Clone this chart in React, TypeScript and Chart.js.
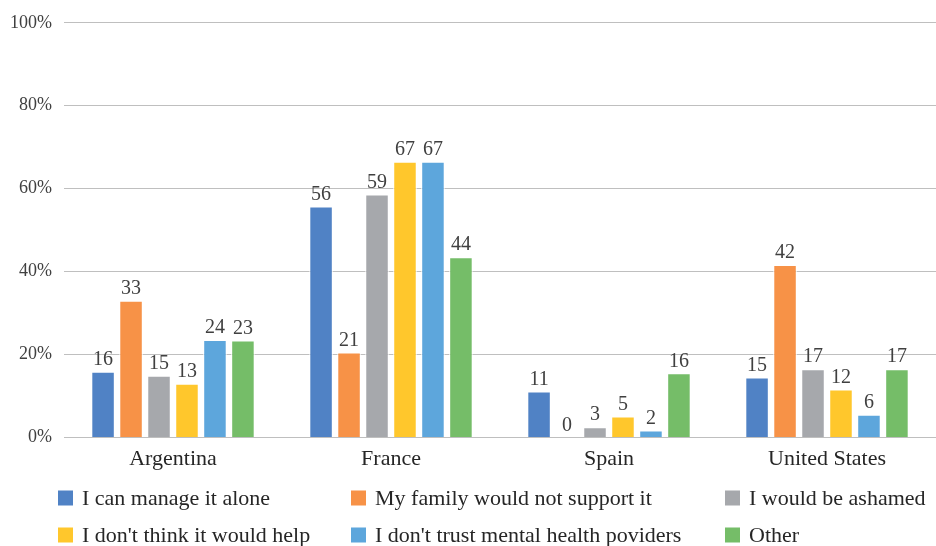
import React, { useEffect, useRef } from "react";
import { Chart, registerables } from "chart.js";

Chart.register(...registerables);

const categories = ["Argentina", "France", "Spain", "United States"];
const seriesNames = [
  "I can manage it alone",
  "My family would not support it",
  "I would be ashamed",
  "I don't think it would help",
  "I don't trust mental health poviders",
  "Other",
];
const seriesColors = ["#5082C5", "#F79247", "#A6A8AC", "#FFC72C", "#5DA6DC", "#75BD68"];
const manageAlone = [15.9, 55.7, 11.1, 14.5];
const familyNoSupport = [33.0, 20.5, 0, 41.6];
const ashamed = [14.9, 58.6, 2.5, 16.5];
const wouldNotHelp = [13.0, 66.5, 5.1, 11.6];
const distrustProviders = [23.5, 66.5, 1.7, 5.5];
const other = [23.4, 43.5, 15.5, 16.5];
const yTicks = [0, 20, 40, 60, 80, 100];

const FONT = "'Liberation Serif', 'DejaVu Serif', serif";

const valueLabels = {
  id: "valueLabels",
  afterDatasetsDraw(chart: any) {
    const ctx = chart.ctx;
    ctx.save();
    ctx.font = `20px ${FONT}`;
    ctx.fillStyle = "#404040";
    ctx.textAlign = "center";
    ctx.textBaseline = "bottom";
    chart.data.datasets.forEach((ds: any, i: number) => {
      const meta = chart.getDatasetMeta(i);
      meta.data.forEach((bar: any, j: number) => {
        const v = ds.data[j];
        ctx.fillText(String(Math.round(v)), bar.x, bar.y - 2);
      });
    });
    ctx.restore();
  },
};

const gridLegend = {
  id: "gridLegend",
  afterDraw(chart: any) {
    const ctx = chart.ctx;
    const colX = [58, 351, 725];
    const rowY = [498, 535];
    ctx.save();
    ctx.font = `22px ${FONT}`;
    ctx.textBaseline = "middle";
    ctx.textAlign = "left";
    seriesNames.forEach((name, i) => {
      const x = colX[i % 3];
      const y = rowY[Math.floor(i / 3)];
      ctx.fillStyle = seriesColors[i];
      ctx.fillRect(x, y - 7.5, 15, 15);
      ctx.fillStyle = "#262626";
      ctx.fillText(name, x + 24, y + 1);
    });
    ctx.restore();
  },
};

export default function App() {
  const ref = useRef<HTMLCanvasElement>(null);
  useEffect(() => {
    document.body.style.margin = "0";
    const series = [manageAlone, familyNoSupport, ashamed, wouldNotHelp, distrustProviders, other];
    const chart = new Chart(ref.current as HTMLCanvasElement, {
      type: "bar",
      data: {
        labels: categories,
        datasets: series.map((d, i) => ({
          label: seriesNames[i],
          data: d,
          backgroundColor: seriesColors[i],
          borderColor: "#ffffff",
          borderWidth: 1,
          categoryPercentage: 0.77,
          barPercentage: 0.84,
        })),
      },
      options: {
        responsive: false,
        animation: false,
        layout: { padding: { top: 22, left: 0, right: 0, bottom: 74 } },
        plugins: { legend: { display: false }, tooltip: { enabled: false } },
        scales: {
          x: {
            grid: { display: false },
            border: { display: false },
            ticks: { font: { family: FONT, size: 22 }, color: "#262626", padding: 0 },
          },
          y: {
            min: 0,
            max: 100,
            afterBuildTicks: (axis: any) => {
              axis.ticks = yTicks.map((v) => ({ value: v }));
            },
            afterFit: (axis: any) => {
              axis.width = 64;
            },
            grid: { color: "#BFBFBF", drawTicks: false, lineWidth: 1 },
            border: { display: false },
            ticks: {
              font: { family: FONT, size: 18 },
              color: "#404040",
              padding: 12,
              callback: (v: any) => `${v}%`,
            },
          },
        },
      },
      plugins: [valueLabels, gridLegend],
    });
    return () => chart.destroy();
  }, []);
  return (
    <div style={{ width: 936, height: 546, background: "#fff" }}>
      <canvas ref={ref} width={936} height={546} />
    </div>
  );
}
